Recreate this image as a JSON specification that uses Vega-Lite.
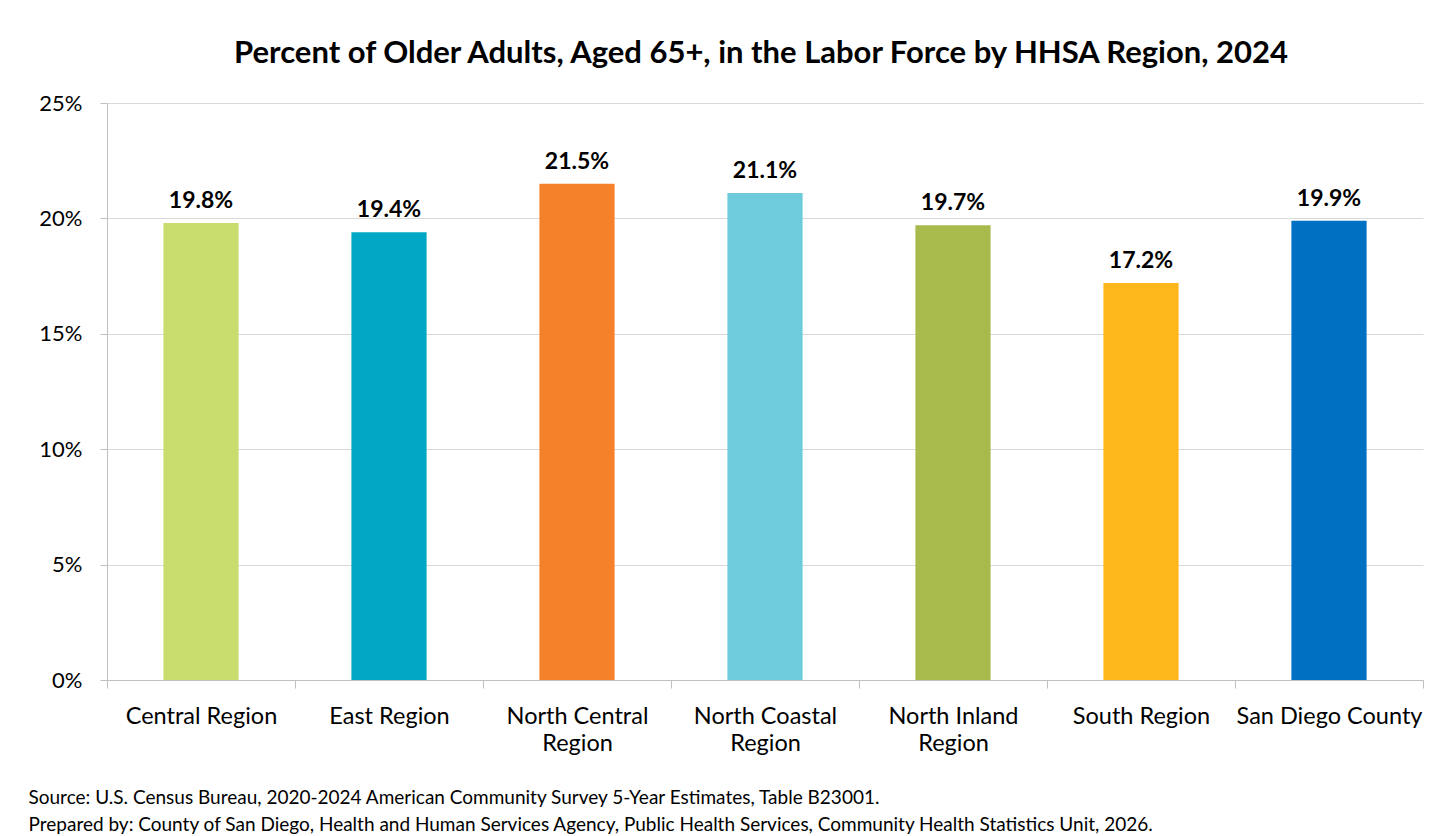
{
  "$schema": "https://vega.github.io/schema/vega-lite/v6.json",
  "autosize": {"type": "none"},
  "width": 1316,
  "height": 577,
  "padding": {"left": 107, "top": 103, "right": 11, "bottom": 156},
  "background": "white",
  "title": {
    "text": "Percent of Older Adults, Aged 65+, in the Labor Force by HHSA Region, 2024",
    "anchor": "middle",
    "frame": "group",
    "font": "Lato",
    "fontSize": 31,
    "fontWeight": "bold",
    "color": "#000000",
    "baseline": "alphabetic",
    "offset": -2,
    "dx": -4
  },
  "data": {
    "values": [
      {"region": "Central Region", "pct": 0.198},
      {"region": "East Region", "pct": 0.194},
      {"region": "North Central Region", "pct": 0.215},
      {"region": "North Coastal Region", "pct": 0.211},
      {"region": "North Inland Region", "pct": 0.197},
      {"region": "South Region", "pct": 0.172},
      {"region": "San Diego County", "pct": 0.199}
    ]
  },
  "encoding": {
    "x": {
      "field": "region",
      "type": "nominal",
      "sort": null,
      "scale": {"paddingInner": 0, "paddingOuter": 0},
      "axis": {
        "title": [
          "Source: U.S. Census Bureau, 2020-2024 American Community Survey 5-Year Estimates, Table B23001.",
          "Prepared by: County of San Diego, Health and Human Services Agency, Public Health Services, Community Health Statistics Unit, 2026."
        ],
        "titleFont": "Lato",
        "titleFontSize": 19,
        "titleFontWeight": "normal",
        "titleColor": "#000000",
        "titleAnchor": "start",
        "titleAlign": "left",
        "titleBaseline": "alphabetic",
        "titleX": -79,
        "titleY": 123,
        "titleLineHeight": 27,
        "labelAngle": 0,
        "labelFont": "Lato",
        "labelFontSize": 23.5,
        "labelColor": "#000000",
        "labelBaseline": "top",
        "labelPadding": 16,
        "labelLineHeight": 27,
        "labelLimit": 300,
        "labelExpr": "datum.value == 'North Central Region' ? ['North Central', 'Region'] : datum.value == 'North Coastal Region' ? ['North Coastal', 'Region'] : datum.value == 'North Inland Region' ? ['North Inland', 'Region'] : datum.value",
        "tickBand": "extent",
        "tickSize": 8,
        "tickColor": "#BFBFBF",
        "domainColor": "#BFBFBF",
        "grid": false
      }
    }
  },
  "layer": [
    {
      "mark": {"type": "bar", "width": {"band": 0.4}},
      "encoding": {
        "y": {
          "field": "pct",
          "type": "quantitative",
          "scale": {"domain": [0, 0.25], "nice": false},
          "axis": {
            "title": null,
            "values": [0, 0.05, 0.1, 0.15, 0.2, 0.25],
            "format": ".0%",
            "labelFont": "Lato",
            "labelFontSize": 22,
            "labelColor": "#000000",
            "labelPadding": 18,
            "tickSize": 7,
            "tickColor": "#BFBFBF",
            "domainColor": "#BFBFBF",
            "grid": true,
            "gridColor": "#D9D9D9",
            "gridWidth": 1
          }
        },
        "color": {
          "field": "region",
          "type": "nominal",
          "legend": null,
          "scale": {
            "domain": ["Central Region", "East Region", "North Central Region", "North Coastal Region", "North Inland Region", "South Region", "San Diego County"],
            "range": ["#C9DC6E", "#00A8C6", "#F5812A", "#6DCBDC", "#A7BA4B", "#FDB71B", "#0071C2"]
          }
        }
      }
    },
    {
      "mark": {
        "type": "text",
        "font": "Lato",
        "fontSize": 23,
        "fontWeight": "bold",
        "color": "#000000",
        "baseline": "alphabetic",
        "dy": -15
      },
      "encoding": {
        "y": {"field": "pct", "type": "quantitative"},
        "text": {"field": "pct", "type": "quantitative", "format": ".1%"}
      }
    }
  ],
  "config": {
    "view": {"stroke": null}
  }
}
